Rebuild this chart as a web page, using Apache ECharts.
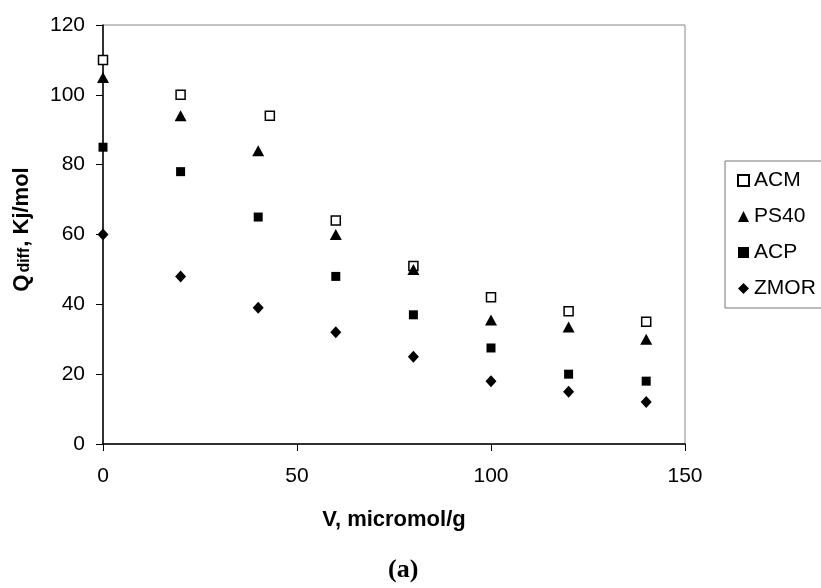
<!DOCTYPE html>
<html>
<head>
<meta charset="utf-8">
<script src="https://cdn.jsdelivr.net/npm/echarts@6/dist/echarts.min.js"></script>
<style>
  html, body { margin: 0; padding: 0; background: #fff; }
  #main { width: 821px; height: 588px; }
</style>
</head>
<body>
<div id="main"></div>
<script>
// V, micromol/g
const xACM = [0, 20, 43, 60, 80, 100, 120, 140];
const xOther = [0, 20, 40, 60, 80, 100, 120, 140];
// Qdiff, Kj/mol
const acm = [110, 100, 94, 64, 51, 42, 38, 35];
const ps40 = [105, 94, 84, 60, 50, 35.5, 33.5, 30];
const acp = [85, 78, 65, 48, 37, 27.5, 20, 18];
const zmor = [60, 48, 39, 32, 25, 18, 15, 12];

const pairs = (xs, ys) => xs.map((x, i) => [x, ys[i]]);

var myChart = echarts.init(document.getElementById("main"));
var font = "Liberation Sans, Arial, sans-serif";

var option = {
  animation: false,
  backgroundColor: "#fff",
  textStyle: { fontFamily: font, color: "#000" },
  grid: {
    left: 103,
    right: 136,
    top: 25,
    bottom: 144,
    show: true,
    borderColor: "#888",
    borderWidth: 1
  },
  legend: {
    orient: "vertical",
    left: 725,
    top: 161,
    padding: [9, 8, 9, 12],
    itemGap: 15,
    itemWidth: 11,
    itemHeight: 11,
    borderColor: "#777",
    borderWidth: 1,
    textStyle: { fontSize: 21, fontFamily: font, color: "#000" },
    data: ["ACM", "PS40", "ACP", "ZMOR"]
  },
  xAxis: {
    type: "value",
    min: 0,
    max: 150,
    interval: 50,
    name: "V, micromol/g",
    nameLocation: "middle",
    nameGap: 65,
    nameTextStyle: { fontSize: 22, fontWeight: "bold", fontFamily: font, color: "#000" },
    axisLine: { show: true, lineStyle: { color: "#000", width: 1.5 } },
    axisTick: { show: true, inside: false, length: 7, lineStyle: { color: "#000" } },
    axisLabel: { fontSize: 21, margin: 22, color: "#000", fontFamily: font },
    splitLine: { show: false }
  },
  yAxis: {
    type: "value",
    min: 0,
    max: 120,
    interval: 20,
    name: "{b|Q}{s|diff}{b|, Kj/mol}",
    nameLocation: "middle",
    nameGap: 70,
    nameTextStyle: {
      padding: [0, 0, 0, 10],
      rich: {
        b: { fontSize: 22, fontWeight: "bold", fontFamily: font, color: "#000" },
        s: { fontSize: 16, fontWeight: "bold", fontFamily: font, color: "#000", verticalAlign: "bottom", padding: [7, 1, 0, 2] }
      }
    },
    axisLine: { show: true, lineStyle: { color: "#000", width: 1.5 } },
    axisTick: { show: true, inside: false, length: 7, lineStyle: { color: "#000" } },
    axisLabel: { fontSize: 21, margin: 18, color: "#000", fontFamily: font },
    splitLine: { show: false }
  },
  graphic: [
    {
      type: "text",
      left: 388,
      top: 557,
      style: {
        text: "(a)",
        font: "bold 26px 'Liberation Serif', 'Times New Roman', serif",
        fill: "#000"
      }
    }
  ],
  series: [
    {
      name: "ACM",
      type: "scatter",
      symbol: "rect",
      symbolSize: 9,
      itemStyle: { color: "#fff", borderColor: "#000", borderWidth: 1.5, opacity: 1 },
      data: pairs(xACM, acm)
    },
    {
      name: "PS40",
      type: "scatter",
      symbol: "triangle",
      symbolSize: [12, 11],
      itemStyle: { color: "#000", opacity: 1 },
      data: pairs(xOther, ps40)
    },
    {
      name: "ACP",
      type: "scatter",
      symbol: "rect",
      symbolSize: 9,
      itemStyle: { color: "#000", opacity: 1 },
      data: pairs(xOther, acp)
    },
    {
      name: "ZMOR",
      type: "scatter",
      symbol: "diamond",
      symbolSize: [11, 12],
      itemStyle: { color: "#000", opacity: 1 },
      data: pairs(xOther, zmor)
    }
  ]
};

myChart.setOption(option);
</script>
</body>
</html>
